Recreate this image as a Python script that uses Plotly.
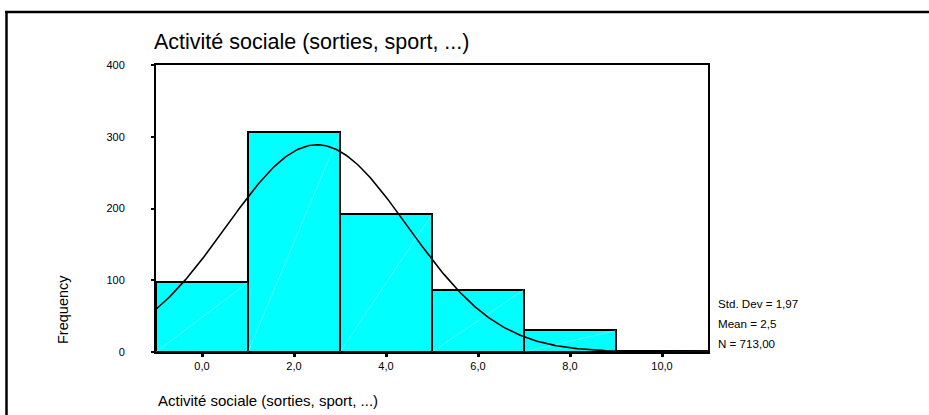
import numpy as np
import plotly.graph_objects as go

# ---- data ----
bin_centers = [0, 2, 4, 6, 8, 10]
bin_width = 2
counts = [97, 306, 192, 87, 30, 1]
x_tick_vals = [0, 2, 4, 6, 8, 10]
x_tick_text = ["0,0", "2,0", "4,0", "6,0", "8,0", "10,0"]
y_tick_vals = [0, 100, 200, 300, 400]
stat_std = 1.97
stat_mean = 2.5
stat_n = 713
stats_lines = ["Std. Dev = 1,97", "Mean = 2,5", "N = 713,00"]
title_text = "Activité sociale (sorties, sport, ...)"
x_title = "Activité sociale (sorties, sport, ...)"
y_title = "Frequency"

W, H = 929, 415
L, R, T, B = 156, 221, 65, 63
PW, PH = W - L - R, H - T - B


def px(x):
    return (x - L) / PW


def py(y):
    return (H - B - y) / PH


FONT = "Liberation Sans, Arial, sans-serif"

fig = go.Figure()

fig.add_trace(go.Bar(
    x=bin_centers, y=counts, width=bin_width,
    marker=dict(color="#00FFFF", line=dict(color="black", width=2)),
    showlegend=False, hoverinfo="skip",
))

# faint diagonal render lines inside bars
for c, n in zip(bin_centers, counts):
    fig.add_trace(go.Scatter(
        x=[c - bin_width / 2, c + bin_width / 2], y=[0, n], mode="lines",
        line=dict(color="rgba(255,255,255,0.3)", width=1),
        showlegend=False, hoverinfo="skip",
    ))

# fitted normal curve from displayed statistics
xs = np.linspace(-1, 11, 300)
ys = stat_n * bin_width / (stat_std * np.sqrt(2 * np.pi)) * np.exp(-0.5 * ((xs - stat_mean) / stat_std) ** 2)
fig.add_trace(go.Scatter(
    x=xs, y=ys, mode="lines", line=dict(color="black", width=1.6),
    showlegend=False, hoverinfo="skip",
))

annotations = [
    dict(text=title_text, x=px(152), y=py(42), xref="paper", yref="paper",
         xanchor="left", yanchor="middle", showarrow=False,
         font=dict(family=FONT, size=21.5, color="black")),
    dict(text=x_title, x=px(156), y=py(400), xref="paper", yref="paper",
         xanchor="left", yanchor="middle", showarrow=False,
         font=dict(family=FONT, size=15, color="black")),
    dict(text=y_title, x=px(63), y=py(310), xref="paper", yref="paper",
         xanchor="center", yanchor="middle", showarrow=False, textangle=-90,
         font=dict(family=FONT, size=14.5, color="black")),
]
for i, s in enumerate(stats_lines):
    annotations.append(dict(
        text=s, x=px(716), y=py(303.5 + 19.8 * i), xref="paper", yref="paper",
        xanchor="left", yanchor="middle", showarrow=False,
        font=dict(family=FONT, size=11.6, color="black")))

shapes = [
    dict(type="line", xref="paper", yref="paper", x0=px(5), x1=px(935), y0=py(12), y1=py(12),
         line=dict(color="black", width=2.5)),
    dict(type="line", xref="paper", yref="paper", x0=px(6.5), x1=px(6.5), y0=py(11), y1=py(420),
         line=dict(color="black", width=2.5)),
]

fig.update_layout(
    width=W, height=H,
    margin=dict(l=L, r=R, t=T, b=B),
    paper_bgcolor="white", plot_bgcolor="white",
    bargap=0,
    showlegend=False,
    annotations=annotations,
    shapes=shapes,
    font=dict(family=FONT, color="black"),
)
fig.update_xaxes(
    range=[-1, 11], tickvals=x_tick_vals, ticktext=x_tick_text,
    showline=True, linecolor="black", linewidth=2, mirror=True,
    ticks="outside", ticklen=3, tickwidth=3, tickcolor="black",
    showgrid=False, zeroline=False, ticklabelstandoff=0,
    tickfont=dict(family=FONT, size=11, color="black"),
)
fig.update_yaxes(
    range=[0, 400], tickvals=y_tick_vals,
    showline=True, linecolor="black", linewidth=2, mirror=True,
    ticks="outside", ticklen=3, tickwidth=2, tickcolor="black",
    showgrid=False, zeroline=False, ticklabelstandoff=24,
    tickfont=dict(family=FONT, size=11, color="black"),
)

fig.write_html("out.html", config={"displayModeBar": False},
               post_script="document.body.style.margin='0';")
